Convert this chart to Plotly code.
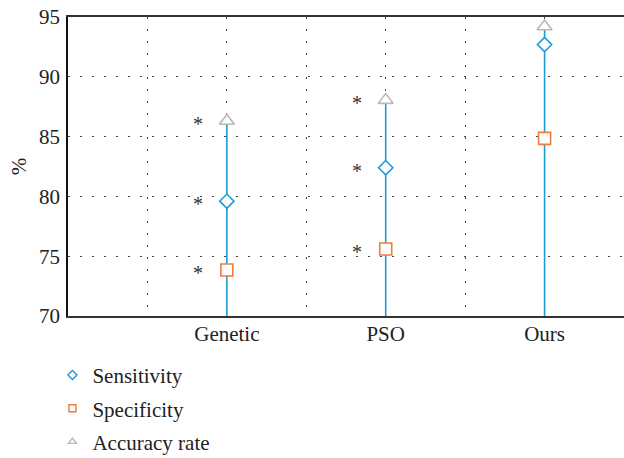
import plotly.graph_objects as go

categories = ["Genetic", "PSO", "Ours"]
cat_pos = [1, 2, 3]
sensitivity = [79.6, 82.4, 92.7]
specificity = [73.85, 75.6, 84.85]
accuracy = [86.3, 88.05, 94.2]
# significance markers (asterisks) shown for the comparison methods
sig_flags = [True, True, False]

FONT = "Liberation Serif"
BLUE = "#1e9ad6"
ORANGE = "#f07b3a"
GRAY = "#b8b8b8"

fig = go.Figure()

# stems
sx, sy = [], []
for p, a in zip(cat_pos, accuracy):
    sx += [p, p, None]
    sy += [70, a, None]
fig.add_trace(go.Scatter(x=sx, y=sy, mode="lines", line=dict(color=BLUE, width=1.6),
                         showlegend=False, hoverinfo="skip"))

fig.add_trace(go.Scatter(x=cat_pos, y=specificity, mode="markers", showlegend=False,
                         marker=dict(symbol="square", size=12, color="white",
                                     line=dict(color=ORANGE, width=1.6))))
fig.add_trace(go.Scatter(x=cat_pos, y=sensitivity, mode="markers", showlegend=False,
                         marker=dict(symbol="diamond", size=11, color="white",
                                     line=dict(color=BLUE, width=1.6))))
fig.add_trace(go.Scatter(x=cat_pos, y=accuracy, mode="markers", showlegend=False,
                         marker=dict(symbol="triangle-up", size=13, color="white",
                                     line=dict(color=GRAY, width=1.6))))

# legend entries
for name, sym, col, g in [("Sensitivity", "diamond", BLUE, "a"),
                          ("Specificity", "square", ORANGE, "b"),
                          ("Accuracy rate", "triangle-up", GRAY, "c")]:
    fig.add_trace(go.Scatter(x=[None], y=[None], mode="markers", name=name, legendgroup=g,
                             marker=dict(symbol=sym, size=7, color="white",
                                         line=dict(color=col, width=1.4))))

# asterisks
for p, flag, vals in zip(cat_pos, sig_flags, zip(sensitivity, specificity, accuracy)):
    if not flag:
        continue
    for v in vals:
        fig.add_annotation(x=p - 0.18, y=v, text="*", showarrow=False,
                           font=dict(family=FONT, size=20, color="#333"), yshift=-3)

tickvals = [0.5, 1, 1.5, 2, 2.5, 3, 3.5]
ticktext = ["", "Genetic", "", "PSO", "", "Ours", ""]

fig.update_layout(
    width=624, height=458,
    margin=dict(l=68, r=0, t=17, b=142, autoexpand=False),
    plot_bgcolor="white", paper_bgcolor="white",
    font=dict(family=FONT, size=21, color="#222"),
    showlegend=True,
    legend=dict(x=-0.028, y=-0.13, xanchor="left", yanchor="top", orientation="v",
                font=dict(family=FONT, size=21, color="#222"), tracegroupgap=3,
                bgcolor="rgba(0,0,0,0)"),
    xaxis=dict(range=[0, 3.5], tickvals=tickvals, ticktext=ticktext,
               showgrid=True, gridcolor="#444", gridwidth=1, griddash="1.5px,10.5px",
               showline=True, linecolor="#333", linewidth=1.5, mirror=True,
               ticks="", zeroline=False, ticklabelstandoff=-2, automargin=False),
    yaxis=dict(range=[70, 95], tickvals=[70, 75, 80, 85, 90, 95],
               showgrid=True, gridcolor="#444", gridwidth=1, griddash="1.5px,10.5px",
               showline=True, linecolor="#111", linewidth=1.5, mirror=False,
               ticks="", zeroline=False, ticklabelstandoff=2, automargin=False,
               title=dict(text="%", standoff=7, font=dict(family=FONT, size=21))),
)

fig.write_html("out.html", config={"displayModeBar": False},
               post_script="document.body.style.margin='0';document.body.style.overflow='hidden';")
